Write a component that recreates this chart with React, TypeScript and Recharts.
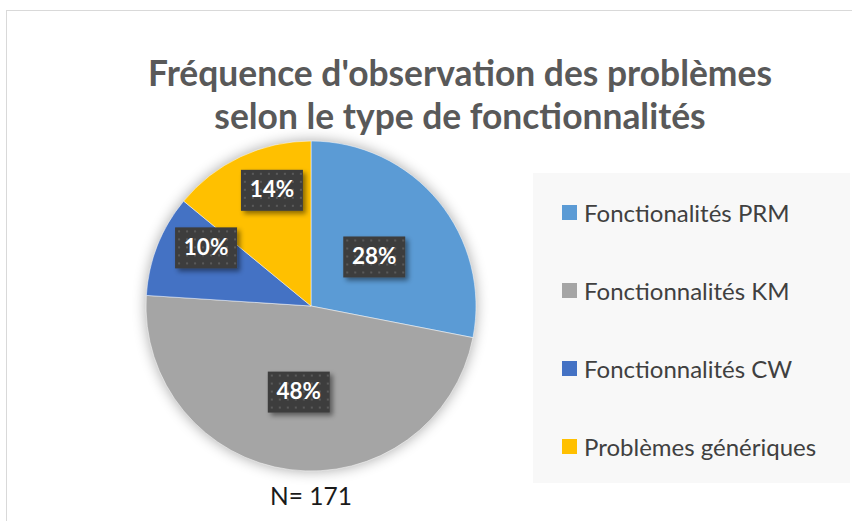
import React from "react";
import { PieChart, Pie, Cell, Legend } from "recharts";

const categories = [
  "Fonctionalités PRM",
  "Fonctionnalités KM",
  "Fonctionnalités CW",
  "Problèmes génériques",
];
const counts = [48, 82, 17, 24];
const colors = ["#5B9BD5", "#A5A5A5", "#4472C4", "#FFC000"];
const titleLines = ["Fréquence d'observation des problèmes", "selon le type de fonctionnalités"];
const totalLabel = "N= 171";

// label placement ("best fit"): distance as a fraction of the radius, and angle shift in degrees
const labelRadiusFactor = [0.485, 0.527, 0.727, 0.74];
const labelAngleShift = [-1.7, -0.7, -7.4, -6.6];

const data = categories.map((name, i) => ({ name, value: counts[i] }));
const RAD = Math.PI / 180;

const renderLabel = (props: any) => {
  const { cx, cy, midAngle, outerRadius, percent, index } = props;
  const r = outerRadius * labelRadiusFactor[index];
  const a = midAngle + labelAngleShift[index];
  const x = cx + r * Math.cos(-a * RAD);
  const y = cy + r * Math.sin(-a * RAD);
  const w = 62;
  const h = 41;
  const pid = `dots${index}`;
  const fid = `lblShadow${index}`;
  return (
    <g>
      <defs>
        <pattern id={pid} width="8" height="8" patternUnits="userSpaceOnUse" x={x - w / 2} y={y - h / 2}>
          <rect width="8" height="8" fill="#3d3d3d" />
          <rect x="3" y="3" width="2" height="2" fill="#5a5a5a" />
        </pattern>
        <filter id={fid} x="-30%" y="-30%" width="160%" height="160%">
          <feDropShadow dx="3" dy="3" stdDeviation="2.5" floodColor="#000" floodOpacity="0.45" />
        </filter>
      </defs>
      <rect x={x - w / 2} y={y - h / 2} width={w} height={h} fill={`url(#${pid})`} filter={`url(#${fid})`} />
      <text
        x={x}
        y={y + 1}
        textAnchor="middle"
        dominantBaseline="middle"
        fill="#ffffff"
        fontFamily="Lato, 'Open Sans', sans-serif"
        fontWeight={700}
        fontSize={22.5}
      >
        {`${Math.round(percent * 100)}%`}
      </text>
    </g>
  );
};

const LegendContent = () => (
  <div
    style={{
      width: 317,
      height: 310,
      background: "#F8F8F8",
      boxSizing: "border-box",
      paddingLeft: 29,
      fontFamily: "Lato, 'Open Sans', sans-serif",
    }}
  >
    {categories.map((c, i) => (
      <div key={c} style={{ display: "flex", alignItems: "center", height: 78 }}>
        <span style={{ width: 15, height: 15, background: colors[i], display: "inline-block", marginRight: 7, flex: "none" }} />
        <span style={{ fontSize: 24, color: "#404040", whiteSpace: "nowrap" }}>{c}</span>
      </div>
    ))}
  </div>
);

export default function App() {
  return (
    <div style={{ position: "absolute", left: 0, top: 0, width: 852, height: 521, overflow: "hidden", background: "#fff" }}>
      <div
        style={{
          position: "absolute",
          left: 6,
          top: 10,
          width: 900,
          height: 600,
          border: "1px solid #D9D9D9",
          boxSizing: "border-box",
        }}
      />
      <div
        style={{
          position: "absolute",
          left: 0,
          top: 51,
          width: 920,
          textAlign: "center",
          fontFamily: "Lato, 'Open Sans', sans-serif",
          fontWeight: 700,
          fontSize: 35.4,
          lineHeight: "43px",
          color: "#595959",
          whiteSpace: "nowrap",
        }}
      >
        {titleLines.map((t) => (
          <div key={t}>{t}</div>
        ))}
      </div>
      <div style={{ position: "absolute", left: 0, top: 0 }}>
        <PieChart width={852} height={521} margin={{ top: 0, right: 0, bottom: 0, left: 0 }}>
          <defs>
            <filter id="pieShadow" x="-20%" y="-20%" width="140%" height="140%">
              <feGaussianBlur in="SourceAlpha" stdDeviation="7" />
              <feComponentTransfer>
                <feFuncA type="linear" slope="0.35" />
              </feComponentTransfer>
            </filter>
          </defs>
          <Pie
            data={[{ name: "shadow", value: 1 }]}
            dataKey="value"
            cx={311}
            cy={306}
            outerRadius={165}
            startAngle={90}
            endAngle={-270}
            fill="#000"
            stroke="none"
            filter="url(#pieShadow)"
            isAnimationActive={false}
            legendType="none"
          />
          <Pie
            data={data}
            dataKey="value"
            nameKey="name"
            cx={311}
            cy={306}
            outerRadius={165}
            startAngle={90}
            endAngle={-270}
            stroke="#ffffff"
            strokeWidth={0.5}
            label={renderLabel}
            labelLine={false}
            isAnimationActive={false}
          >
            {data.map((d, i) => (
              <Cell key={d.name} fill={colors[i]} />
            ))}
          </Pie>
          <Legend
            content={<LegendContent />}
            wrapperStyle={{ position: "absolute", left: 533, top: 173, width: 317, height: 310 }}
          />
        </PieChart>
      </div>
      <div
        style={{
          position: "absolute",
          left: 211,
          top: 481,
          width: 200,
          textAlign: "center",
          fontFamily: "Lato, 'Open Sans', sans-serif",
          fontSize: 24.5,
          color: "#1a1a1a",
        }}
      >
        {totalLabel}
      </div>
    </div>
  );
}
